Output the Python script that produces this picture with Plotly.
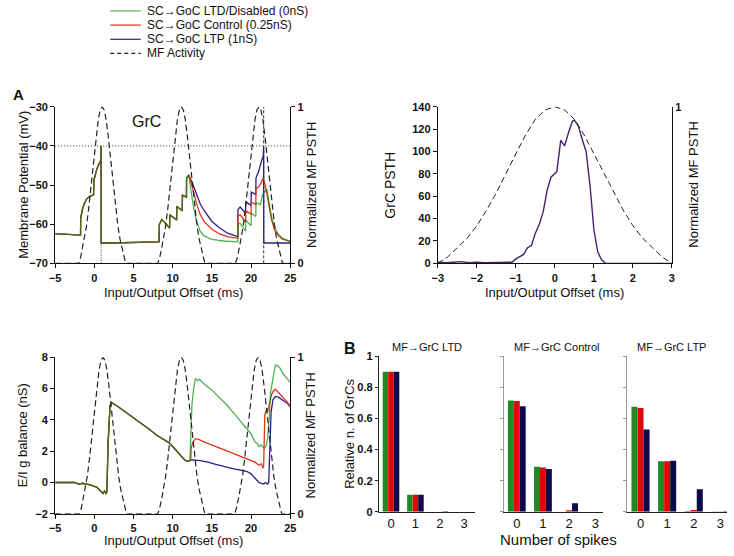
import plotly.graph_objects as go

W, H = 734, 556
FONT = "Liberation Sans, Arial, sans-serif"


def px(x):
    return x / W


def py(y):
    return 1 - y / H


# ---------------- data ----------------
# MF activity profile (normalized), read around each peak centre
mf_offsets = [-3, -2.75, -2.5, -2.25, -2, -1.75, -1.5, -1.25, -1, -0.75, -0.5, -0.25, 0,
              0.25, 0.5, 0.75, 1, 1.25, 1.5, 1.75, 2, 2.25, 2.5, 2.75, 3]
mf_profile = [0.0, 0.04, 0.1, 0.16, 0.24, 0.34, 0.45, 0.58, 0.7, 0.82, 0.92, 0.98, 1.0,
              0.98, 0.92, 0.82, 0.7, 0.58, 0.45, 0.34, 0.24, 0.16, 0.1, 0.04, 0.0]
mf_centers_vm = [1.0, 11.1, 21.0]
mf_centers_ei = [1.1, 11.1, 20.9]

# Membrane potential (mV): shared part, then per-condition
vm_common_t = [-5, -3, -1.76, -1.75, -1.5, -1.25, -1.0, -0.7, -0.4, -0.1, -0.06, 0.1, 0.3, 0.5,
               0.7, 0.84, 0.86, 0.87, 2.0, 4.0, 6.0, 8.25, 8.3, 8.6, 9.0, 9.6, 9.62, 10.0, 10.5,
               10.52, 11.0, 11.22, 11.24, 11.75, 11.77, 12.05]
vm_common_v = [-62.4, -62.6, -62.8, -58.5, -56.0, -54.6, -53.6, -53.0, -52.7, -52.5, -48.8, -47.2,
               -46.0, -45.0, -44.2, -43.6, -40.0, -64.8, -64.8, -64.7, -64.6, -64.5, -60.0, -58.8,
               -59.6, -61.0, -57.6, -58.2, -58.9, -55.4, -56.3, -56.6, -52.6, -53.1, -48.2, -47.5]
vm_ltd_t = [12.3, 12.6, 13.0, 13.5, 14.0, 15.0, 16.5, 18.3, 18.32, 18.6, 19.3, 19.32, 20.0, 20.02,
            20.6, 20.62, 21.2, 21.45, 21.9, 22.0, 22.3, 22.6, 23.0, 23.45, 24.0, 25.0]
vm_ltd_v = [-51.0, -55.0, -59.0, -61.8, -63.0, -63.9, -64.3, -64.5, -60.0, -59.8, -61.8, -59.0,
            -60.4, -57.2, -58.0, -54.5, -55.0, -52.5, -51.3, -51.0, -54.5, -58.0, -60.8, -62.5,
            -63.6, -64.4]
vm_ctl_t = [12.5, 13.0, 13.5, 14.0, 15.0, 16.0, 17.0, 18.3, 18.32, 18.6, 19.3, 19.32, 20.0, 20.02,
            20.6, 20.62, 21.0, 21.3, 21.5, 21.7, 22.0, 22.3, 22.6, 23.0, 23.5, 24.0, 25.0]
vm_ctl_v = [-50.5, -54.5, -57.5, -59.3, -61.3, -62.5, -63.2, -63.6, -57.8, -57.6, -59.4, -56.6,
            -57.4, -54.4, -55.0, -51.0, -50.4, -49.4, -48.3, -49.2, -52.0, -55.5, -58.8, -61.5,
            -63.0, -63.8, -64.4]
vm_ltp_t = [12.5, 13.0, 13.5, 14.0, 15.0, 16.0, 17.0, 18.3, 18.32, 18.6, 19.3, 19.32, 20.0, 20.02,
            20.6, 20.62, 21.0, 21.3, 21.55, 21.6, 21.62, 25.0]
vm_ltp_v = [-49.5, -52.2, -54.8, -56.5, -59.3, -61.0, -62.3, -63.2, -56.3, -55.6, -57.2, -54.3,
            -55.2, -51.8, -52.4, -48.2, -46.3, -44.0, -42.6, -40.3, -64.8, -64.8]
spike_common_t = 0.87
spike_ltp_t = 21.61
threshold_mv = -40

# GrC PSTH
psth_t = [-3, -2.8, -2.6, -2.4, -2.2, -2.0, -1.8, -1.6, -1.4, -1.2, -1.1, -1.0, -0.9, -0.8, -0.7,
          -0.6, -0.5, -0.4, -0.3, -0.2, -0.1, 0.0, 0.05, 0.15, 0.25, 0.35, 0.45, 0.5, 0.6, 0.7,
          0.8, 0.9, 1.0, 1.1, 1.2, 1.3, 1.5, 2.0, 2.5, 3.0]
psth_v = [1, 0.5, 1, 1.5, 0.5, 1, 0.5, 0.5, 1, 0.5, 1, 4, 6, 8, 14, 16, 27, 35, 46, 65, 77, 80,
          82, 110, 105, 117, 127, 128, 123, 111, 100, 70, 30, 10, 3, 0, 0, 0, 0, 0]

# E/I g balance (nS)
ei_common_t = [-5, -2.5, -2.0, -1.5, -1.0, -0.5, 0.0, 0.3, 0.6, 0.9, 1.1, 1.3, 1.5, 1.6, 1.75,
               2.0, 2.2, 3.0, 4.0, 5.0, 6.0, 7.0, 8.0, 8.5, 9.0, 9.5, 10.0, 10.5, 11.0, 11.5,
               11.8, 12.1]
ei_common_v = [0.0, 0.0, -0.1, -0.05, -0.1, -0.15, -0.25, -0.3, -0.45, -0.6, -0.7, -0.55, -0.7,
               -0.6, 2.5, 4.9, 5.1, 4.85, 4.5, 4.15, 3.8, 3.4, 3.0, 2.85, 2.7, 2.55, 2.3, 2.0,
               1.7, 1.45, 1.35, 1.4]
ei_ltd_t = [12.2, 12.3, 12.45, 12.7, 12.9, 13.2, 13.4, 13.6, 14.0, 15.0, 16.0, 17.0, 18.0, 19.0,
            19.5, 20.0, 20.5, 20.8, 21.0, 21.3, 21.6, 21.9, 22.1, 22.3, 22.5, 22.8, 23.1, 23.4,
            23.7, 24.0, 24.5, 25.0]
ei_ltd_v = [1.5, 3.5, 5.0, 6.1, 6.65, 6.5, 6.6, 6.5, 6.3, 5.9, 5.4, 4.9, 4.3, 3.7, 3.4, 3.1, 2.6,
            2.5, 2.3, 2.4, 2.2, 2.3, 2.8, 4.0, 5.8, 6.8, 7.5, 7.45, 7.3, 7.0, 6.7, 6.4]
ei_ctl_t = [12.3, 12.35, 12.6, 12.9, 13.3, 14.0, 15.0, 16.0, 17.0, 18.0, 19.0, 20.0, 20.5, 21.0,
            21.3, 21.5, 21.6, 21.75, 21.9, 22.0, 22.1, 22.3, 22.6, 22.9, 23.1, 23.4, 24.0, 24.5,
            25.0]
ei_ctl_v = [1.4, 2.2, 2.6, 2.8, 2.75, 2.6, 2.4, 2.2, 2.0, 1.8, 1.6, 1.45, 1.3, 1.1, 1.2, 0.95,
            1.0, 4.3, 4.5, 4.7, 4.5, 4.9, 5.6, 5.9, 5.95, 5.8, 5.5, 5.2, 4.9]
ei_ltp_t = [12.5, 13.5, 14.5, 15.5, 16.5, 17.5, 18.5, 19.5, 20.0, 20.5, 20.8, 21.0, 21.3, 21.6,
            21.8, 22.1, 22.25, 22.4, 22.55, 22.8, 23.1, 23.5, 24.0, 24.5, 25.0]
ei_ltp_v = [1.45, 1.4, 1.3, 1.15, 1.0, 0.9, 0.8, 0.7, 0.55, 0.3, 0.15, 0.0, -0.05, -0.1, 0.0,
            -0.1, 0.0, 2.5, 4.5, 5.3, 5.5, 5.45, 5.3, 5.1, 4.85]

# Spike count distributions
spike_counts = [0, 1, 2, 3]
ltd_sc_ltd = [0.90, 0.11, 0.0, 0.0]
ltd_sc_ctl = [0.90, 0.11, 0.0, 0.0]
ltd_sc_ltp = [0.90, 0.11, 0.003, 0.0]
ctl_sc_ltd = [0.715, 0.29, 0.0, 0.0]
ctl_sc_ctl = [0.712, 0.285, 0.01, 0.0]
ctl_sc_ltp = [0.678, 0.275, 0.055, 0.0]
ltp_sc_ltd = [0.675, 0.325, 0.005, 0.002]
ltp_sc_ctl = [0.668, 0.325, 0.012, 0.002]
ltp_sc_ltp = [0.53, 0.328, 0.145, 0.004]

legend_labels = ["SC\u2192GoC LTD/Disabled (0nS)", "SC\u2192GoC Control (0.25nS)",
                 "SC\u2192GoC LTP (1nS)", "MF Activity"]
bar_titles = ["MF\u2192GrC LTD", "MF\u2192GrC Control", "MF\u2192GrC LTP"]

# ---------------- styles ----------------
C_GREEN = "rgba(0,138,0,0.68)"
C_GREEN_LEG = "#58b048"
C_RED = "#e5321e"
C_BLUE = "#2b1f86"
B_GREEN = "#1f8a24"
B_RED = "#dd0a0a"
B_BLUE = "#0c0a4a"
C_PSTH = "#45216f"
DASH = "6px,3.5px"


def mf_series(centers, start, end):
    xs, ys = [start], [0.0]
    for c in centers:
        for d, v in zip(mf_offsets, mf_profile):
            if start <= c + d <= end:
                xs.append(c + d)
                ys.append(v)
    xs.append(end)
    ys.append(0.0)
    return xs, ys


fig = go.Figure()

# ---- Panel A1: membrane potential
for tail_t, tail_v, col in [(vm_ltp_t, vm_ltp_v, C_BLUE), (vm_ctl_t, vm_ctl_v, C_RED),
                            (vm_ltd_t, vm_ltd_v, C_GREEN)]:
    fig.add_trace(go.Scatter(x=vm_common_t + tail_t, y=vm_common_v + tail_v, mode="lines",
                             line=dict(color=col, width=1.3), xaxis="x", yaxis="y",
                             showlegend=False))
fig.add_trace(go.Scatter(x=[-5, 25], y=[threshold_mv, threshold_mv], mode="lines",
                         line=dict(color="#333", width=1, dash="1px,2px"), xaxis="x", yaxis="y",
                         showlegend=False))
fig.add_trace(go.Scatter(x=[spike_common_t, spike_common_t], y=[-70, threshold_mv], mode="lines",
                         line=dict(color="#555", width=1.2, dash="1px,1.5px"), xaxis="x", yaxis="y",
                         showlegend=False))
fig.add_trace(go.Scatter(x=[spike_ltp_t, spike_ltp_t], y=[-70, -30], mode="lines",
                         line=dict(color=C_BLUE, width=1, dash="3px,2px"), xaxis="x", yaxis="y",
                         showlegend=False))
mx, my = mf_series(mf_centers_vm, -5, 25)
fig.add_trace(go.Scatter(x=mx, y=my, mode="lines", line=dict(color="#222", width=1.2, dash=DASH),
                         xaxis="x", yaxis="y2", showlegend=False))

# ---- Panel A2: GrC PSTH
fig.add_trace(go.Scatter(x=psth_t, y=psth_v, mode="lines", line=dict(color=C_PSTH, width=1.4),
                         xaxis="x2", yaxis="y3", showlegend=False))
mx2, my2 = mf_series([0.0], -3, 3)
fig.add_trace(go.Scatter(x=mx2, y=my2, mode="lines", line=dict(color="#222", width=1, dash=DASH),
                         xaxis="x2", yaxis="y4", showlegend=False))

# ---- Panel A3: E/I balance
for tail_t, tail_v, col in [(ei_ltp_t, ei_ltp_v, C_BLUE), (ei_ctl_t, ei_ctl_v, C_RED),
                            (ei_ltd_t, ei_ltd_v, C_GREEN)]:
    fig.add_trace(go.Scatter(x=ei_common_t + tail_t, y=ei_common_v + tail_v, mode="lines",
                             line=dict(color=col, width=1.3), xaxis="x3", yaxis="y5",
                             showlegend=False))
mx3, my3 = mf_series(mf_centers_ei, -5, 25)
fig.add_trace(go.Scatter(x=mx3, y=my3, mode="lines", line=dict(color="#222", width=1.2, dash=DASH),
                         xaxis="x3", yaxis="y6", showlegend=False))

# ---- Panel B: bars
bar_sets = [
    ("x4", "y7", [ltd_sc_ltd, ltd_sc_ctl, ltd_sc_ltp]),
    ("x5", "y8", [ctl_sc_ltd, ctl_sc_ctl, ctl_sc_ltp]),
    ("x6", "y9", [ltp_sc_ltd, ltp_sc_ctl, ltp_sc_ltp]),
]
for xa, ya, series in bar_sets:
    for vals, col in zip(series, [B_GREEN, B_RED, B_BLUE]):
        fig.add_trace(go.Bar(x=spike_counts, y=vals, marker=dict(color=col, line=dict(width=0)),
                             xaxis=xa, yaxis=ya, showlegend=False))

tickf = dict(family=FONT, size=11, color="#111", weight="bold")
base_ax = dict(showline=True, linecolor="#111", linewidth=1, ticks="outside", ticklen=4,
               tickwidth=1, tickcolor="#111", showgrid=False, zeroline=False, tickfont=tickf)

dA_x = [px(50), px(289)]
dA2_x = [px(439), px(677)]
dTop_y = [py(263), py(103)]
dBot_y = [py(519), py(359)]
dBar_y = [py(517), py(358)]

layout = dict(
    width=W, height=H, margin=dict(l=0, r=0, t=0, b=0),
    paper_bgcolor="white", plot_bgcolor="rgba(0,0,0,0)",
    barmode="group", bargap=0.32, bargroupgap=0,
    font=dict(family=FONT, color="#111"),
    xaxis=dict(base_ax, domain=dA_x, range=[-5, 25], tickvals=[-5, 0, 5, 10, 15, 20, 25],
               anchor="y"),
    yaxis=dict(base_ax, domain=dTop_y, range=[-70, -30], tickvals=[-70, -60, -50, -40, -30],
               anchor="x"),
    yaxis2=dict(base_ax, overlaying="y", side="right", anchor="x", range=[0, 1],
                tickvals=[0, 1]),
    xaxis2=dict(base_ax, domain=dA2_x, range=[-3, 3], tickvals=[-3, -2, -1, 0, 1, 2, 3],
                anchor="y3"),
    yaxis3=dict(base_ax, domain=dTop_y, range=[0, 140], tickvals=list(range(0, 141, 20)),
                anchor="x2"),
    yaxis4=dict(base_ax, overlaying="y3", side="right", anchor="x2", range=[0, 1],
                tickvals=[1], ticks="inside"),
    xaxis3=dict(base_ax, domain=dA_x, range=[-5, 25], tickvals=[-5, 0, 5, 10, 15, 20, 25],
                anchor="y5"),
    yaxis5=dict(base_ax, domain=dBot_y, range=[-2, 8], tickvals=[-2, 0, 2, 4, 6, 8],
                anchor="x3"),
    yaxis6=dict(base_ax, overlaying="y5", side="right", anchor="x3", range=[0, 1],
                tickvals=[0, 1]),
)

bar_x_domains = [[px(379), px(477)], [px(506), px(607)], [px(631), px(733)]]
bar_x_ranges = [[-0.5, 3.45], [-0.5, 3.3], [-0.52, 3.25]]
for i, (xa, ya, _) in enumerate(bar_sets):
    xk = "xaxis" + xa[1:]
    yk = "yaxis" + ya[1:]
    layout[xk] = dict(domain=bar_x_domains[i], range=bar_x_ranges[i], anchor=ya,
                      showline=True, linecolor="#222", linewidth=1, ticks="",
                      tickvals=spike_counts, showgrid=False, zeroline=False,
                      tickfont=dict(family=FONT, size=13, color="#111"))
    layout[yk] = dict(domain=dBar_y, range=[0, 1], anchor=xa, showline=True,
                      linecolor="#222" if i == 0 else "#999", linewidth=1,
                      ticks="outside", ticklen=3, tickcolor="#222" if i == 0 else "#999",
                      tickvals=[0, 0.2, 0.4, 0.6, 0.8, 1], showgrid=False, zeroline=False,
                      showticklabels=(i == 0),
                      ticktext=["0", "0.2", "0.4", "0.6", "0.8", "1"],
                      tickfont=dict(family=FONT, size=11, color="#111", weight="bold"))

fig.update_layout(**layout)

ann = []


def add_text(text, x, y, size=13, angle=0, bold=False, xanchor="center"):
    ann.append(dict(text=("<b>%s</b>" % text) if bold else text, x=px(x), y=py(y),
                    xref="paper", yref="paper", showarrow=False, textangle=angle,
                    xanchor=xanchor, yanchor="middle",
                    font=dict(family=FONT, size=size, color="#111")))


# axis titles
add_text("Membrane Potential (mV)", 17, 183, 13, -90)
add_text("Normalized MF PSTH", 310, 183, 13, -90)
add_text("Input/Output Offset (ms)", 170, 293, 13)
add_text("GrC PSTH", 390, 183, 14, -90)
add_text("Normalized MF PSTH", 698, 183, 13, -90)
add_text("Input/Output Offset (ms)", 558, 293, 13)
add_text("E/I g balance (nS)", 17, 439, 13, -90)
add_text("Normalized MF PSTH", 310, 439, 13, -90)
add_text("Input/Output Offset (ms)", 170, 546, 13)
add_text("Relative n. of GrCs", 349, 437, 13, -90)
add_text("Number of spikes", 562, 545, 15)
add_text("GrC", 143, 118, 16)
add_text("A", 13, 90, 15, bold=True)
add_text("B", 350, 350, 16, bold=True)
for t, cx in zip(bar_titles, [428, 560, 677]):
    add_text(t, cx, 349, 11)

# legend (drawn manually)
shapes = []
leg_rows = [5, 19.5, 34, 48.5]
leg_cols = [C_GREEN_LEG, C_RED, C_BLUE, "#222"]
for lab, ry, col in zip(legend_labels, leg_rows, leg_cols):
    shapes.append(dict(type="line", xref="paper", yref="paper", x0=px(106), x1=px(137),
                       y0=py(ry), y1=py(ry),
                       line=dict(color=col, width=1.2,
                                 dash="4px,3px" if lab == "MF Activity" else "solid")))
    add_text(lab, 141, ry, 12, xanchor="left")

fig.update_layout(annotations=ann, shapes=shapes)
fig.write_html("out.html",
               config={"displayModeBar": False, "staticPlot": True},
               post_script="document.body.style.margin='0px';"
                           "document.body.style.overflow='hidden';")
